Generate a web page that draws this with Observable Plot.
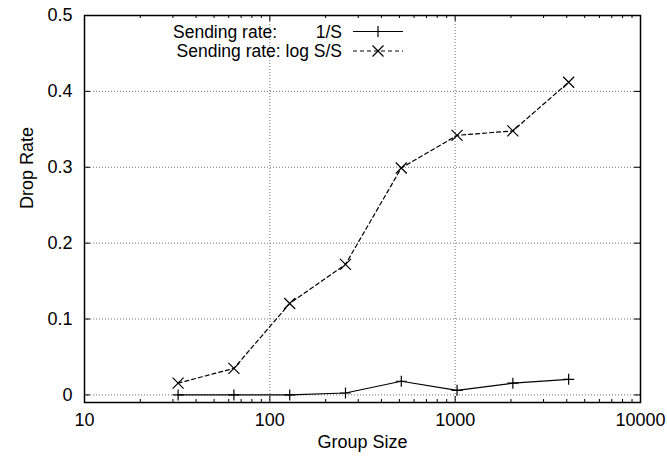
<!DOCTYPE html>
<html><head><meta charset="utf-8">
<script src="https://cdn.jsdelivr.net/npm/d3@7"></script>
<script src="https://cdn.jsdelivr.net/npm/@observablehq/plot@0.6"></script>
<style>
html,body{margin:0;padding:0;background:#fff}
svg{font-family:"Liberation Sans",Arial,Helvetica,sans-serif}
</style>
</head><body><div id="chart"></div>
<script>
// ---- data ----
const groupSizes = [32, 64, 128, 256, 512, 1024, 2048, 4096];
const rateInvS  = [0, 0, 0, 0.0025, 0.018, 0.006, 0.0155, 0.0205];
const rateLogS  = [0.0155, 0.035, 0.1205, 0.172, 0.299, 0.342, 0.348, 0.412];
const xTicks = [10, 100, 1000, 10000];
const yTicks = [0, 0.1, 0.2, 0.3, 0.4, 0.5];
const xGrid = [100, 1000];
const yGrid = [0, 0.1, 0.2, 0.3, 0.4];
const seriesLabels = ["Sending rate:", "1/S", "Sending rate: log S/S"];
const xLabel = "Group Size";
const yLabel = "Drop Rate";

// ---- layout ----
const W = 667, H = 458, mt = 15, mb = 56, ml = 84, mr = 27;
const innerH = H - mt - mb, innerW = W - ml - mr;
const minorTicks = [];
for (const d of [10, 100, 1000]) for (let k = 2; k <= 9; k++) minorTicks.push(d * k);

const d1 = groupSizes.map((x, i) => ({x, y: rateInvS[i]}));
const d2 = groupSizes.map((x, i) => ({x, y: rateLogS[i]}));

const plusSym = {draw(ctx, size) { const r = Math.sqrt(size / Math.PI);
  ctx.moveTo(-r, 0); ctx.lineTo(r, 0); ctx.moveTo(0, -r); ctx.lineTo(0, r); }};
const timesSym = {draw(ctx, size) { const r = Math.sqrt(size / Math.PI);
  ctx.moveTo(-r, -r); ctx.lineTo(r, r); ctx.moveTo(-r, r); ctx.lineTo(r, -r); }};

const gridStyle = {stroke: "#000", strokeOpacity: 0.55, strokeDasharray: "1,2", strokeWidth: 1};
const fs = 18;

const svg = Plot.plot({
  width: W, height: H, marginTop: mt, marginBottom: mb, marginLeft: ml, marginRight: mr,
  style: {background: "#fff", color: "#000", fontFamily: "'Liberation Sans', Arial, sans-serif", fontSize: fs + "px"},
  x: {type: "log", domain: [10, 10000], label: null},
  y: {domain: [-0.01, 0.5], label: null},
  marks: [
    Plot.ruleX(xGrid, {x: d => d, ...gridStyle}),
    Plot.ruleY(yGrid, {y: d => d, ...gridStyle}),
    Plot.tickX(minorTicks, {x: d => d, insetTop: innerH - 3, stroke: "#000"}),
    Plot.tickX(minorTicks, {x: d => d, insetBottom: innerH - 3, stroke: "#000"}),
    Plot.tickX(xTicks, {x: d => d, insetTop: innerH - 6, stroke: "#000"}),
    Plot.tickX(xTicks, {x: d => d, insetBottom: innerH - 6, stroke: "#000"}),
    Plot.tickY(yTicks, {y: d => d, insetRight: innerW - 6, stroke: "#000"}),
    Plot.tickY(yTicks, {y: d => d, insetLeft: innerW - 6, stroke: "#000"}),
    Plot.axisX({ticks: xTicks, tickSize: 0, tickPadding: 11, tickFormat: d => String(d), fontSize: fs, label: null}),
    Plot.axisY({ticks: yTicks, tickSize: 0, tickPadding: 12, tickFormat: d => d === 0 ? "0" : d.toFixed(1), fontSize: fs, label: null}),
    Plot.line(d1, {x: "x", y: "y", stroke: "#000", strokeWidth: 1.2}),
    Plot.line(d2, {x: "x", y: "y", stroke: "#000", strokeWidth: 1.2, strokeDasharray: "4,3"}),
    Plot.dot(d1, {x: "x", y: "y", symbol: plusSym, r: 5.5, fill: "none", stroke: "#000", strokeWidth: 1.2}),
    Plot.dot(d2, {x: "x", y: "y", symbol: timesSym, r: 5.5, fill: "none", stroke: "#000", strokeWidth: 1.2}),
    Plot.frame({stroke: "#000", strokeWidth: 1.5}),
    Plot.text([xLabel], {text: d => d, frameAnchor: "bottom", dy: 45, fontSize: fs, fill: "#000"}),
    Plot.text([yLabel], {text: d => d, frameAnchor: "left", dx: -57, rotate: -90, fontSize: fs, fill: "#000"})
  ]
});

// ---- legend (inside plot, top) ----
const lfs = 17.5;
const g = d3.select(svg).append("g").attr("font-size", lfs).attr("fill", "#000");
const lx = ml + 258, sx0 = ml + 269, sx1 = ml + 319, mx = ml + 294;
const rows = [mt + 16.5, mt + 36];
g.append("text").attr("x", ml + 89).attr("y", rows[0]).attr("dy", "0.35em").attr("text-anchor", "start").text(seriesLabels[0]);
g.append("text").attr("x", lx).attr("y", rows[0]).attr("dy", "0.35em").attr("text-anchor", "end").text(seriesLabels[1]);
g.append("text").attr("x", lx).attr("y", rows[1]).attr("dy", "0.35em").attr("text-anchor", "end").text(seriesLabels[2]);
g.append("line").attr("x1", sx0).attr("x2", sx1).attr("y1", rows[0]).attr("y2", rows[0]).attr("stroke", "#000").attr("stroke-width", 1.2);
g.append("line").attr("x1", sx0).attr("x2", sx1).attr("y1", rows[1]).attr("y2", rows[1]).attr("stroke", "#000").attr("stroke-width", 1.2).attr("stroke-dasharray", "4,3");
const r = 5.5;
g.append("path").attr("d", `M${mx - r},${rows[0]}H${mx + r}M${mx},${rows[0] - r}V${rows[0] + r}`).attr("stroke", "#000").attr("stroke-width", 1.2).attr("fill", "none");
g.append("path").attr("d", `M${mx - r},${rows[1] - r}L${mx + r},${rows[1] + r}M${mx - r},${rows[1] + r}L${mx + r},${rows[1] - r}`).attr("stroke", "#000").attr("stroke-width", 1.2).attr("fill", "none");

document.getElementById("chart").appendChild(svg);
</script>
</body></html>
